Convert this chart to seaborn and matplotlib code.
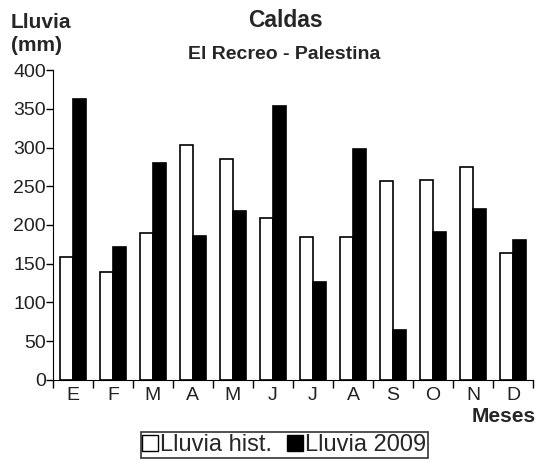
import pandas as pd
import seaborn as sns
import matplotlib.pyplot as plt
from matplotlib.lines import Line2D

meses = ["E", "F", "M", "A", "M", "J", "J", "A", "S", "O", "N", "D"]
lluvia_hist = [159, 139, 189, 303, 285, 209, 184, 184, 257, 258, 275, 164]
lluvia_2009 = [363, 172, 280, 186, 218, 353, 127, 298, 64, 191, 220, 181]

# long format for seaborn, keep month position since letters repeat
df = pd.DataFrame({
    "pos": list(range(12)) * 2,
    "valor": lluvia_hist + lluvia_2009,
    "serie": ["Lluvia hist."] * 12 + ["Lluvia 2009"] * 12,
})

sns.set_style("ticks")
plt.rcParams["font.family"] = ["Liberation Sans", "DejaVu Sans"]

fig = plt.figure(figsize=(5.4, 4.61), dpi=100)
ax = fig.add_axes([0.098, 0.176, 0.889, 0.672])

sns.barplot(data=df, x="pos", y="valor", hue="serie", palette=["white", "black"],
            edgecolor="black", linewidth=1.2, width=0.66, ax=ax, legend=False)

ax.set_xlim(-0.5, 11.5)
ax.set_ylim(0, 400)
ax.set_yticks(range(0, 401, 50))
ax.set_xticks(range(12))
ax.set_xticklabels(meses, fontsize=14)
ax.set_xticks([i - 0.5 for i in range(13)], minor=True)
ax.tick_params(axis="x", which="major", length=0, pad=5)
ax.tick_params(axis="x", which="minor", length=6, width=1, color="black", direction="out")
ax.tick_params(axis="y", labelsize=14, length=5, width=1, color="black", pad=0)
for lab in ax.get_xticklabels() + ax.get_yticklabels():
    lab.set_color("#222222")
ax.set_xlabel("")
ax.set_ylabel("")
sns.despine(ax=ax)
ax.spines["left"].set_color("black")
ax.spines["bottom"].set_color("black")

fig.text(0.528, 0.955, "Caldas", ha="center", va="center", fontsize=16.5, fontweight="bold")
fig.text(0.527, 0.881, "El Recreo - Palestina", ha="center", va="center", fontsize=14, fontweight="bold")
fig.text(0.02, 0.952, "Lluvia", ha="left", va="center", fontsize=15, fontweight="bold")
fig.text(0.02, 0.902, "(mm)", ha="left", va="center", fontsize=15, fontweight="bold")
fig.text(0.993, 0.097, "Meses", ha="right", va="center", fontsize=15, fontweight="bold")

handles = [
    Line2D([], [], marker="s", linestyle="", markerfacecolor="white",
           markeredgecolor="black", markersize=11),
    Line2D([], [], marker="s", linestyle="", markerfacecolor="black",
           markeredgecolor="black", markersize=11),
]
leg = fig.legend(handles, ["Lluvia hist.", "Lluvia 2009"], loc="center",
                 bbox_to_anchor=(0.527, 0.035), ncol=2, fontsize=17, frameon=True,
                 fancybox=False, edgecolor="black", handlelength=0.55,
                 handletextpad=0.15, columnspacing=0.7, borderpad=0.1,
                 borderaxespad=0)
leg.get_frame().set_linewidth(1.2)

fig.savefig("out.png", dpi=100)
